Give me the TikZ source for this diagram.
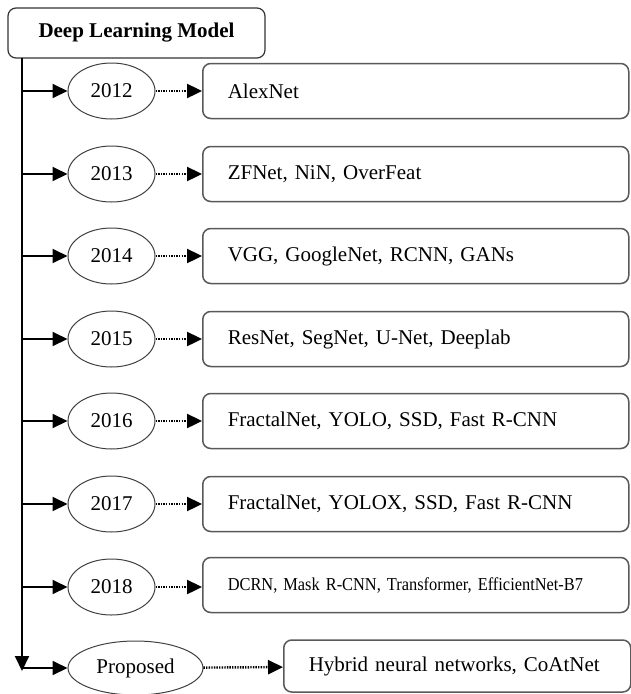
\documentclass[tikz,border=0pt]{standalone}
\usepackage{fontspec}
\setmainfont{Liberation Serif}
\usetikzlibrary{arrows.meta,positioning,shapes.geometric}

\begin{document}
\begin{tikzpicture}[
    x=1pt, y=-1pt,
    title/.style={rectangle, draw=black!80, line width=1.2pt, rounded corners=8pt, minimum width=257pt, minimum height=50pt, align=center, font=\fontsize{21}{25}\selectfont\bfseries},
    year/.style={ellipse, draw=black!75, line width=1pt, minimum width=87pt, minimum height=56pt, inner sep=0pt, font=\fontsize{21}{25}\selectfont},
    box/.style={rectangle, draw=black!65, line width=1.5pt, rounded corners=8pt, anchor=west, minimum width=426pt, minimum height=55pt, inner xsep=25pt, text width=376pt, align=left, font=\fontsize{21}{25}\selectfont},
    arrow/.style={-{Triangle[length=15pt,width=14pt]}, line width=2pt},
    dotarrow/.style={-{Triangle[length=15pt,width=14pt]}, line width=2.4pt, dash pattern=on 1.4pt off 1.2pt}
]
\useasboundingbox (0,0) rectangle (631,694);

\node[title] (dlm) at (136.5,33) {Deep Learning Model};
\coordinate (top) at (22,58);
\coordinate (bot) at (22,668);

% years
\node[year] (e12) at (111.5,91) {2012};
\node[year] (e13) at (111.5,174) {2013};
\node[year] (e14) at (111.5,256) {2014};
\node[year] (e15) at (111.5,339) {2015};
\node[year] (e16) at (111.5,421) {2016};
\node[year] (e17) at (111.5,504) {2017};
\node[year] (e18) at (111.5,587) {2018};
\node[year, minimum width=135pt, minimum height=54pt] (prop) at (135.5,668) {Proposed};

% models
\node[box] (b12) at (202,91) {AlexNet};
\node[box] (b13) at (202,174) {ZFNet, NiN, OverFeat};
\node[box] (b14) at (202,256) {VGG, GoogleNet, RCNN, GANs};
\node[box] (b15) at (202,339) {ResNet, SegNet, U-Net, Deeplab};
\node[box] (b16) at (202,421) {FractalNet, YOLO, SSD, Fast R-CNN};
\node[box] (b17) at (202,504) {FractalNet, YOLOX, SSD, Fast R-CNN};
\node[box, font=\fontsize{18.2}{22}\selectfont\addfontfeature{FakeStretch=0.9}] (b18) at (202,585) {DCRN, Mask R-CNN, Transformer, EfficientNet-B7};
\node[box, minimum width=347pt, text width=297pt, minimum height=52pt] (bp) at (283,666) {Hybrid neural networks, CoAtNet};

% trunk
\draw[arrow] (top) -- ([yshift=-3pt]bot);
\draw[line width=2pt] ([xshift=-1pt]bot) -- (bot);

\draw[arrow] (top |- e12) -- (e12);
\draw[arrow] (top |- e13) -- (e13);
\draw[arrow] (top |- e14) -- (e14);
\draw[arrow] (top |- e15) -- (e15);
\draw[arrow] (top |- e16) -- (e16);
\draw[arrow] (top |- e17) -- (e17);
\draw[arrow] (top |- e18) -- (e18);
\draw[arrow] (bot) -- (prop);

\draw[dotarrow] (e12) -- (b12);
\draw[dotarrow] (e13) -- (b13);
\draw[dotarrow] (e14) -- (b14);
\draw[dotarrow] (e15) -- (b15);
\draw[dotarrow] (e16) -- (b16);
\draw[dotarrow] (e17) -- (b17);
\draw[dotarrow] (e18) -- (b18.west |- e18);
\draw[dotarrow] (prop) -- (bp);
\end{tikzpicture}
\end{document}
